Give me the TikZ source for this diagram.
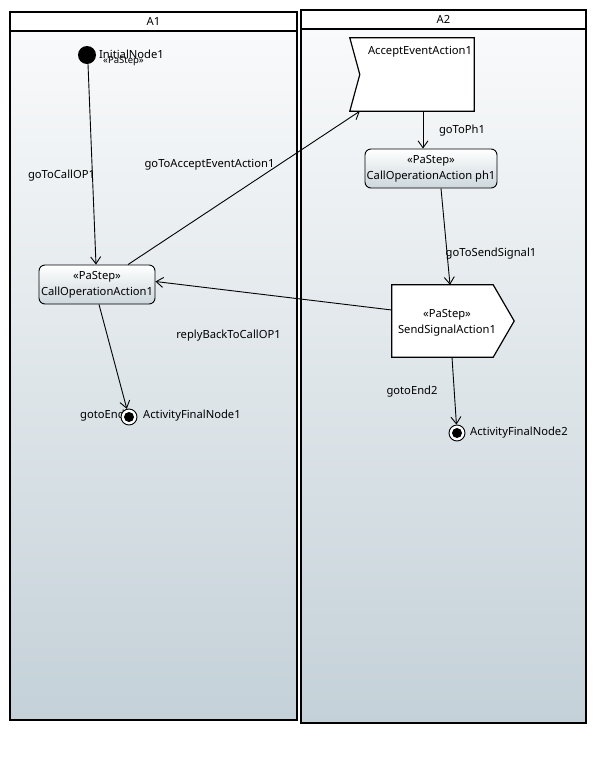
\documentclass[tikz,border=0pt]{standalone}
\usepackage{fontspec}
\setmainfont{Noto Sans}
\usetikzlibrary{arrows.meta,calc}
\definecolor{laneTop}{HTML}{F9FAFB}
\definecolor{laneBot}{HTML}{C4D1D8}
\definecolor{actBot}{HTML}{CCD7DC}
\tikzset{
  lane/.style={draw=black, line width=1.3pt},
  action/.style={draw=black, line width=0.9pt, rounded corners=6pt, top color=white, bottom color=actBot, align=center, inner sep=0pt, font=\fontsize{11.2}{16}\selectfont},
  lbl/.style={font=\fontsize{11.2}{13}\selectfont, inner sep=0pt},
  arr/.style={draw=black, line width=0.9pt, -{Straight Barb[length=7pt,width=10pt,line width=0.9pt]}},
  finalnode/.style={circle, draw=black, line width=0.9pt, fill=white, minimum size=16pt, inner sep=0pt},
  sigbox/.style={draw=black, line width=1.2pt, fill=white}
}
\begin{document}
\begin{tikzpicture}[x=1pt,y=-1pt]
\useasboundingbox (0,0) rectangle (596,769);
% partitions
\shade[top color=laneTop, bottom color=laneBot] (10,31) rectangle (297,720);
\draw[lane] (10,12) rectangle (297,720);
\draw[lane] (10,31) -- (297,31);
\node[lbl] (laneA1) at (153.5,21) {A1};
\shade[top color=laneTop, bottom color=laneBot] (301,29) rectangle (586,723);
\draw[lane] (301,10) rectangle (586,723);
\draw[lane] (301,29) -- (586,29);
\node[lbl] (laneA2) at (443.5,19.5) {A2};

% initial node
\node[circle, fill=black, minimum size=18pt, inner sep=0pt] (init) at (87,55) {};
\node[lbl, anchor=west] (initlbl) at (99,54.5) {InitialNode1};
\node[lbl, anchor=west, font=\fontsize{9.5}{11}\selectfont] (initst) at (103,61) {«PaStep»};

% CallOperationAction1
\node[action, minimum width=116pt, minimum height=39pt] (co1) at (97,284.5) {«PaStep»\\CallOperationAction1};

% AcceptEventAction1
\node[inner sep=0pt, minimum width=124pt, minimum height=73pt] (acc) at (412,74.5) {};
\draw[sigbox] (acc.north west) -- (acc.north east) -- (acc.south east) -- (acc.south west) -- ([xshift=10pt]acc.west) -- cycle;
\node[lbl, anchor=north east] (acctext) at ([xshift=-2pt,yshift=-8pt]acc.north east) {AcceptEventAction1};

% CallOperationAction ph1
\node[action, minimum width=132pt, minimum height=39pt] (ph1) at (431,168.5) {«PaStep»\\CallOperationAction ph1};

% SendSignalAction1
\node[inner sep=0pt, minimum width=122pt, minimum height=72pt] (ss) at (453,321) {};
\draw[sigbox] (ss.north west) -- ([xshift=-21pt]ss.north east) -- (ss.east) -- ([xshift=-21pt]ss.south east) -- (ss.south west) -- cycle;
\node[lbl, align=center, font=\fontsize{11.2}{16}\selectfont] (sstext) at (447,323) {«PaStep»\\SendSignalAction1};

% labels under final nodes
\node[lbl, anchor=west] (ge1) at (80,416) {gotoEnd};
% final nodes
\node[finalnode] (fin1) at (129,417) {};
\fill (fin1.center) circle (5pt);
\node[lbl, anchor=west] (fin1lbl) at (143,416) {ActivityFinalNode1};
\node[finalnode] (fin2) at (457,433) {};
\fill (fin2.center) circle (5pt);
\node[lbl, anchor=west] (fin2lbl) at (470,433) {ActivityFinalNode2};

% edges
\draw[arr] ([xshift=1pt]init.south) -- ([xshift=-1pt]co1.north);
\draw[arr] ([xshift=31pt]co1.north) -- ([xshift=10pt]acc.south west);
\draw[arr] ([xshift=11pt]acc.south) -- ([xshift=-8pt]ph1.north);
\draw[arr] ([xshift=10pt]ph1.south) -- ([xshift=-3pt]ss.north);
\draw[arr] ([yshift=11pt]ss.west) -- ([yshift=3pt]co1.east);
\draw[arr] ([xshift=2pt]co1.south) -- (fin1);
\draw[arr] ([xshift=-1pt]ss.south) -- (fin2);

% edge labels
\node[lbl] (l1) at (61.5,176) {goToCallOP1};
\node[lbl] (l2) at (209.5,165) {goToAcceptEventAction1};
\node[lbl] (l3) at (462,131) {goToPh1};
\node[lbl] (l4) at (491,253.5) {goToSendSignal1};
\node[lbl] (l5) at (228.5,336) {replyBackToCallOP1};
\node[lbl] (l6) at (412,392) {gotoEnd2};
\end{tikzpicture}
\end{document}
